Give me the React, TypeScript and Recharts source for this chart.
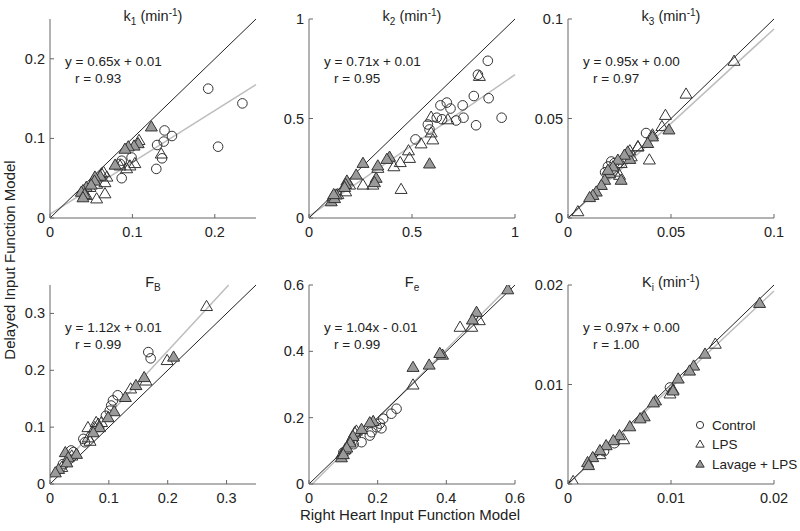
import { ScatterChart, Scatter, XAxis, YAxis, ReferenceLine } from "recharts";

type Pt = [number, number];

// k1 (min-1)
const k1Control: Pt[] = [[0.192, 0.1625], [0.2335, 0.144], [0.204, 0.0896], [0.139, 0.11], [0.148, 0.103], [0.138, 0.096], [0.13, 0.0917], [0.136, 0.075], [0.129, 0.0617], [0.099, 0.076], [0.087, 0.072], [0.087, 0.05], [0.085, 0.068]];
const k1Lps: Pt[] = [[0.135, 0.081], [0.108, 0.098], [0.103, 0.069], [0.093, 0.0625], [0.085, 0.066], [0.097, 0.066], [0.0667, 0.045], [0.069, 0.052], [0.0667, 0.031], [0.0566, 0.0246], [0.0626, 0.056], [0.0566, 0.043], [0.0485, 0.039], [0.044, 0.029], [0.065, 0.058]];
const k1Lavage: Pt[] = [[0.123, 0.115], [0.107, 0.094], [0.102, 0.091], [0.095, 0.09], [0.091, 0.087], [0.079, 0.067], [0.061, 0.053], [0.0545, 0.052], [0.054, 0.047], [0.044, 0.039], [0.04, 0.035], [0.038, 0.033], [0.042, 0.03], [0.04, 0.026], [0.05, 0.042]];

// k2 (min-1)
const k2Control: Pt[] = [[0.868, 0.79], [0.82, 0.72], [0.8, 0.613], [0.872, 0.602], [0.935, 0.504], [0.811, 0.466], [0.746, 0.566], [0.75, 0.504], [0.714, 0.49], [0.687, 0.55], [0.669, 0.58], [0.638, 0.566], [0.646, 0.496], [0.62, 0.504], [0.577, 0.47], [0.585, 0.445], [0.517, 0.395]];
const k2Lps: Pt[] = [[0.827, 0.714], [0.674, 0.496], [0.593, 0.509], [0.593, 0.43], [0.601, 0.395], [0.544, 0.375], [0.483, 0.34], [0.488, 0.302], [0.443, 0.281], [0.412, 0.26], [0.447, 0.146], [0.31, 0.168], [0.262, 0.168], [0.197, 0.168], [0.178, 0.134], [0.334, 0.252], [0.14, 0.12]];
const k2Lavage: Pt[] = [[0.585, 0.274], [0.391, 0.308], [0.378, 0.297], [0.334, 0.264], [0.326, 0.202], [0.318, 0.18], [0.262, 0.277], [0.229, 0.218], [0.184, 0.188], [0.178, 0.171], [0.173, 0.156], [0.132, 0.118], [0.116, 0.109], [0.108, 0.084], [0.124, 0.1], [0.12, 0.12]];

// k3 (min-1)
const k3Control: Pt[] = [[0.0379, 0.0427], [0.0194, 0.0259], [0.0226, 0.0276], [0.021, 0.0284], [0.024, 0.027], [0.018, 0.023]];
const k3Lps: Pt[] = [[0.0806, 0.079], [0.0573, 0.0625], [0.0473, 0.0518], [0.0456, 0.0462], [0.0395, 0.0294], [0.041, 0.042], [0.034, 0.036], [0.03, 0.034], [0.0048, 0.0034], [0.0339, 0.036], [0.0307, 0.031], [0.0258, 0.0276], [0.025, 0.0217], [0.0226, 0.0233]];
const k3Lavage: Pt[] = [[0.049, 0.0445], [0.041, 0.041], [0.0387, 0.0377], [0.03, 0.0297], [0.029, 0.0334], [0.0274, 0.0318], [0.0242, 0.0293], [0.0218, 0.0259], [0.0202, 0.0225], [0.0194, 0.0242], [0.0258, 0.0192], [0.0178, 0.0192], [0.0162, 0.0166], [0.0137, 0.0133], [0.0121, 0.0116], [0.0105, 0.0105]];

// FB
const fbControl: Pt[] = [[0.167, 0.232], [0.171, 0.221], [0.107, 0.147], [0.115, 0.156], [0.104, 0.138], [0.1015, 0.129], [0.095, 0.12], [0.0567, 0.0794], [0.0594, 0.0734], [0.04, 0.056], [0.036, 0.059], [0.022, 0.035]];
const fbLps: Pt[] = [[0.266, 0.313], [0.199, 0.218], [0.163, 0.182], [0.137, 0.168], [0.0645, 0.1], [0.0785, 0.109], [0.082, 0.106], [0.076, 0.1], [0.0875, 0.109], [0.065, 0.082], [0.068, 0.076], [0.037, 0.05], [0.02, 0.03]];
const fbLavage: Pt[] = [[0.21, 0.224], [0.16, 0.188], [0.146, 0.174], [0.128, 0.153], [0.109, 0.128], [0.0987, 0.1175], [0.084, 0.1], [0.0735, 0.091], [0.045, 0.053], [0.026, 0.056], [0.031, 0.047], [0.0286, 0.038], [0.0146, 0.0265], [0.009, 0.0205]];

// Fe
const feControl: Pt[] = [[0.255, 0.227], [0.24, 0.212], [0.216, 0.197], [0.206, 0.182], [0.211, 0.168], [0.197, 0.171], [0.182, 0.156], [0.177, 0.146], [0.153, 0.126], [0.13, 0.12], [0.109, 0.1], [0.1, 0.095]];
const feLps: Pt[] = [[0.44, 0.474], [0.474, 0.474], [0.496, 0.494], [0.303, 0.3], [0.138, 0.161], [0.133, 0.156], [0.12, 0.13], [0.105, 0.105], [0.095, 0.09]];
const feLavage: Pt[] = [[0.579, 0.587], [0.488, 0.519], [0.476, 0.496], [0.389, 0.39], [0.381, 0.395], [0.35, 0.36], [0.303, 0.353], [0.187, 0.19], [0.177, 0.186], [0.153, 0.166], [0.128, 0.145], [0.12, 0.125], [0.11, 0.11], [0.0945, 0.0805], [0.1, 0.09]];

// Ki (min-1)
const kiControl: Pt[] = [[0.0099, 0.0097], [0.0045, 0.0041], [0.0035, 0.0033]];
const kiLps: Pt[] = [[0.0143, 0.0141], [0.0099, 0.0091], [0.0054, 0.0045], [0.0005, 0.0003], [0.0102, 0.0095], [0.0031, 0.003]];
const kiLavage: Pt[] = [[0.0186, 0.0182], [0.0133, 0.0131], [0.0122, 0.0119], [0.0118, 0.0114], [0.0107, 0.0106], [0.0102, 0.0094], [0.0085, 0.0084], [0.0083, 0.0082], [0.0074, 0.0068], [0.007, 0.0066], [0.006, 0.0058], [0.005, 0.0049], [0.0044, 0.0044], [0.0037, 0.0039], [0.0031, 0.0034], [0.0024, 0.0027], [0.0019, 0.0022], [0.002, 0.0019]];

// regression lines [slope, intercept] and the printed text
const fits: Pt[] = [[0.65, 0.005], [0.71, 0.01], [0.95, 0.0], [1.12, 0.01], [1.04, -0.01], [0.97, 0.0]];
const equations = ["y = 0.65x + 0.01", "y = 0.71x + 0.01", "y = 0.95x + 0.00", "y = 1.12x + 0.01", "y = 1.04x - 0.01", "y = 0.97x + 0.00"];
const rValues = ["r = 0.93", "r = 0.95", "r = 0.97", "r = 0.99", "r = 0.99", "r = 1.00"];

const maxes = [0.25, 1, 0.1, 0.35, 0.6, 0.02];
const tickSets = [[0, 0.1, 0.2], [0, 0.5, 1], [0, 0.05, 0.1], [0, 0.1, 0.2, 0.3], [0, 0.2, 0.4, 0.6], [0, 0.01, 0.02]];

const FONT = "'Liberation Sans', Arial, sans-serif";
const TXT = "#222";
const PR = 25; // right margin, room for the last x tick label
const W = 40 + 206 + PR;
const H = 234;
const PL = 40; // plot left inside chart
const PT = 10;
const PB = H - 25; // plot bottom inside chart
const plotLefts = [50, 309, 568];
const plotTops = [19, 285];

const toXY = (pts: Pt[]) => pts.map(([x, y]) => ({ x, y }));

const CircleMark = (p: any) => (
  <circle cx={p.cx} cy={p.cy} r={4.8} fill="none" stroke="#333" strokeWidth={1} />
);
const triPath = (cx: number, cy: number, s = 1) =>
  `M${cx},${cy - 5.7 * s} L${cx + 6 * s},${cy + 4.5 * s} L${cx - 6 * s},${cy + 4.5 * s} Z`;
const OpenTri = (p: any) => <path d={triPath(p.cx, p.cy)} fill="none" stroke="#333" strokeWidth={1} />;
const GrayTri = (p: any) => <path d={triPath(p.cx, p.cy)} fill="#9a9a9a" stroke="#333" strokeWidth={1} />;

const XTick = (p: any) => (
  <g>
    <line x1={p.x} y1={PB} x2={p.x} y2={PB - 4} stroke="#666" />
    <text x={p.x} y={PB + 19} textAnchor="middle" fontSize={14.5} fontFamily={FONT} fill={TXT}>
      {p.payload.value}
    </text>
  </g>
);
const YTick = (p: any) => (
  <g>
    <line x1={PL} y1={p.y} x2={PL + 4} y2={p.y} stroke="#666" />
    <text x={PL - 5} y={p.y + 5} textAnchor="end" fontSize={14.5} fontFamily={FONT} fill={TXT}>
      {p.payload.value}
    </text>
  </g>
);

function Panel({ i, control, lps, lavage }: { i: number; control: Pt[]; lps: Pt[]; lavage: Pt[] }) {
  const max = maxes[i];
  const [m, b] = fits[i];
  const x0 = b < 0 ? -b / m : 0;
  const x1 = Math.min(max, (max - b) / m);
  const left = plotLefts[i % 3] - PL;
  const top = plotTops[Math.floor(i / 3)] - PT;
  return (
    <div style={{ position: "absolute", left, top }}>
      <ScatterChart width={W} height={H} margin={{ top: PT, right: PR, bottom: 0, left: 0 }}>
        <XAxis
          type="number"
          dataKey="x"
          domain={[0, max]}
          ticks={tickSets[i]}
          interval={0}
          allowDataOverflow
          height={25}
          tickLine={false}
          axisLine={{ stroke: "#666" }}
          tick={<XTick />}
        />
        <YAxis
          type="number"
          dataKey="y"
          domain={[0, max]}
          ticks={tickSets[i]}
          interval={0}
          allowDataOverflow
          width={PL}
          tickLine={false}
          axisLine={{ stroke: "#666" }}
          tick={<YTick />}
        />
        <ReferenceLine
          segment={[{ x: x0, y: m * x0 + b }, { x: x1, y: m * x1 + b }]}
          stroke="#bdbdbd"
          strokeWidth={1.5}
          ifOverflow="visible"
        />
        <ReferenceLine
          segment={[{ x: 0, y: 0 }, { x: max, y: max }]}
          stroke="#222"
          strokeWidth={1}
          ifOverflow="visible"
        />
        <Scatter data={toXY(control)} shape={<CircleMark />} isAnimationActive={false} />
        <Scatter data={toXY(lps)} shape={<OpenTri />} isAnimationActive={false} />
        <Scatter data={toXY(lavage)} shape={<GrayTri />} isAnimationActive={false} />
      </ScatterChart>
    </div>
  );
}

function Title({ cx, y, main, sub, unit }: { cx: number; y: number; main: string; sub: string; unit: boolean }) {
  return (
    <text x={cx} y={y} textAnchor="middle" fontSize={14.5} fontFamily={FONT} fill={TXT}>
      {main}
      <tspan dy={4} fontSize={10}>{sub}</tspan>
      {unit ? (
        <>
          <tspan dy={-4}> (min</tspan>
          <tspan dy={-5} fontSize={10}>-1</tspan>
          <tspan dy={5}>)</tspan>
        </>
      ) : null}
    </text>
  );
}

const titles: [string, string, boolean][] = [["k", "1", true], ["k", "2", true], ["k", "3", true], ["F", "B", false], ["F", "e", false], ["K", "i", true]];

export default function App() {
  const panels = [
    [k1Control, k1Lps, k1Lavage],
    [k2Control, k2Lps, k2Lavage],
    [k3Control, k3Lps, k3Lavage],
    [fbControl, fbLps, fbLavage],
    [feControl, feLps, feLavage],
    [kiControl, kiLps, kiLavage],
  ];
  return (
    <div style={{ position: "absolute", left: 0, top: 0, width: 800, height: 531, background: "#fff", overflow: "hidden" }}>
      {panels.map((p, i) => (
        <Panel key={i} i={i} control={p[0]} lps={p[1]} lavage={p[2]} />
      ))}
      <svg width={800} height={531} style={{ position: "absolute", left: 0, top: 0, pointerEvents: "none" }}>
        {titles.map(([main, sub, unit], i) => {
          const pl = plotLefts[i % 3];
          const pt = plotTops[Math.floor(i / 3)];
          return (
            <g key={i}>
              <Title cx={pl + 103} y={pt + 2} main={main} sub={sub} unit={unit} />
              <text x={pl + 15} y={pt + 47} fontSize={13.5} fontFamily={FONT} fill={TXT}>{equations[i]}</text>
              <text x={pl + 25} y={pt + 64} fontSize={13.5} fontFamily={FONT} fill={TXT}>{rValues[i]}</text>
            </g>
          );
        })}
        <text x={15} y={260} transform="rotate(-90 15 260)" textAnchor="middle" fontSize={15} fontFamily={FONT} fill={TXT}>
          Delayed Input Function Model
        </text>
        <text x={410} y={520} textAnchor="middle" fontSize={15} fontFamily={FONT} fill={TXT}>
          Right Heart Input Function Model
        </text>
        <g fontSize={13.5} fontFamily={FONT} fill={TXT}>
          <circle cx={700} cy={425} r={3.6} fill="none" stroke="#333" />
          <text x={712} y={430}>Control</text>
          <path d={triPath(700, 444, 0.7)} fill="none" stroke="#333" />
          <text x={712} y={449}>LPS</text>
          <path d={triPath(700, 464, 0.7)} fill="#9a9a9a" stroke="#333" />
          <text x={712} y={469}>Lavage + LPS</text>
        </g>
      </svg>
    </div>
  );
}
